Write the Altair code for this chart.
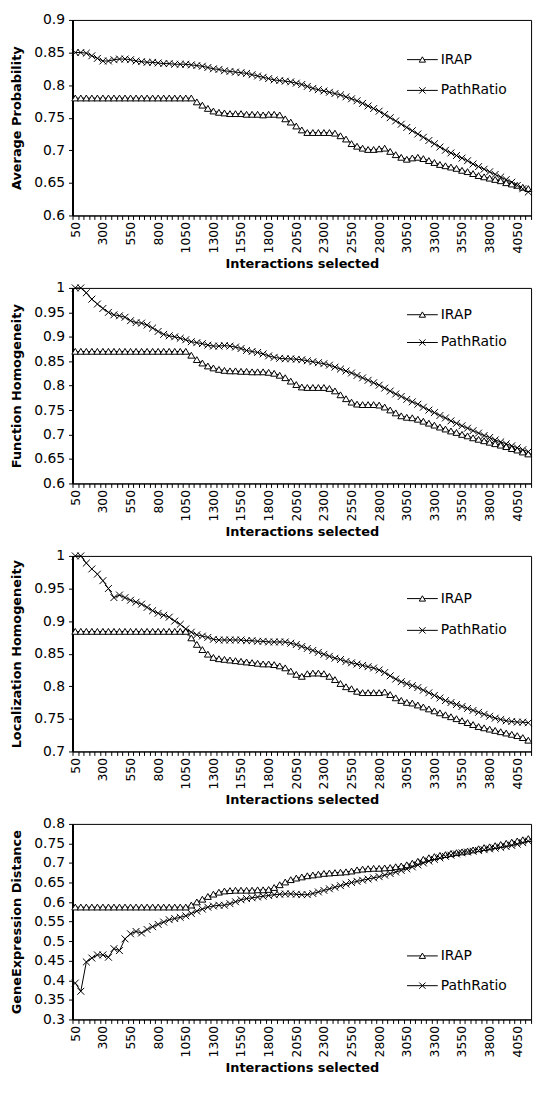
import altair as alt
import pandas as pd

# x categories (interactions selected), one every 50
interactions = list(range(50, 4151, 50))
series_names = ["IRAP", "PathRatio"]
# category boundaries used for the tick marks (labels shown every 250)
x_ticks = list(range(25, 4176, 50))

# ---- Average Probability ----
avg_irap = [
    0.78, 0.78, 0.78, 0.78, 0.78, 0.78, 0.78, 0.78, 0.78, 0.78,
    0.78, 0.78, 0.78, 0.78, 0.78, 0.78, 0.78, 0.78, 0.78, 0.78,
    0.78, 0.78, 0.774, 0.769, 0.764, 0.76, 0.758, 0.757, 0.756, 0.756,
    0.756, 0.755, 0.755, 0.755, 0.754, 0.755, 0.755, 0.754, 0.748, 0.743,
    0.737, 0.731, 0.727, 0.727, 0.727, 0.727, 0.727, 0.726, 0.722, 0.717,
    0.71, 0.706, 0.703, 0.701, 0.701, 0.702, 0.703, 0.698, 0.693, 0.689,
    0.686, 0.688, 0.689, 0.687, 0.684, 0.681, 0.678, 0.676, 0.674, 0.672,
    0.669, 0.667, 0.664, 0.661, 0.659, 0.657, 0.655, 0.653, 0.65, 0.648,
    0.646, 0.643, 0.641]
avg_path = [
    0.85, 0.85, 0.849, 0.845, 0.841, 0.837, 0.837, 0.839, 0.84, 0.84,
    0.839, 0.837, 0.836, 0.835, 0.835, 0.834, 0.833, 0.833, 0.832, 0.832,
    0.832, 0.831, 0.83, 0.829, 0.827, 0.825, 0.824, 0.822, 0.821, 0.82,
    0.819, 0.818, 0.816, 0.814, 0.812, 0.81, 0.808, 0.807, 0.806, 0.805,
    0.803, 0.801, 0.798, 0.795, 0.793, 0.791, 0.789, 0.787, 0.785, 0.782,
    0.779, 0.776, 0.772, 0.768, 0.764, 0.76, 0.755, 0.75, 0.745, 0.74,
    0.735, 0.73, 0.725, 0.72, 0.715, 0.71, 0.705, 0.7, 0.696, 0.692,
    0.688, 0.684, 0.679, 0.675, 0.671, 0.667, 0.663, 0.659, 0.655, 0.651,
    0.646, 0.641, 0.636]

# ---- Function Homogeneity ----
func_irap = [
    0.87, 0.87, 0.87, 0.87, 0.87, 0.87, 0.87, 0.87, 0.87, 0.87,
    0.87, 0.87, 0.87, 0.87, 0.87, 0.87, 0.87, 0.87, 0.87, 0.87,
    0.87, 0.862, 0.853, 0.846, 0.84, 0.836, 0.833, 0.831, 0.83, 0.83,
    0.829, 0.829, 0.828, 0.828, 0.828, 0.827, 0.825, 0.821, 0.816, 0.809,
    0.802, 0.797, 0.796, 0.796, 0.796, 0.796, 0.794, 0.789, 0.781, 0.773,
    0.766, 0.762, 0.761, 0.761, 0.761, 0.76, 0.756, 0.75, 0.744, 0.738,
    0.735, 0.734, 0.731, 0.727, 0.723, 0.719, 0.715, 0.711, 0.707, 0.704,
    0.7, 0.697, 0.693, 0.69, 0.687, 0.684, 0.681, 0.678, 0.675, 0.671,
    0.668, 0.664, 0.66]
func_path = [
    1.0, 1.0, 0.99, 0.977, 0.967, 0.958, 0.95, 0.945, 0.943, 0.94,
    0.933, 0.929, 0.928, 0.924, 0.918, 0.911, 0.905, 0.902, 0.9, 0.897,
    0.894, 0.89, 0.888, 0.886, 0.883, 0.881, 0.881, 0.882, 0.881, 0.879,
    0.876, 0.872, 0.87, 0.868, 0.865, 0.861, 0.858, 0.856, 0.855, 0.855,
    0.854, 0.853, 0.851, 0.849, 0.847, 0.845, 0.842, 0.838, 0.834, 0.83,
    0.826, 0.821, 0.816, 0.811, 0.806, 0.801, 0.795, 0.789, 0.783, 0.778,
    0.772, 0.767, 0.762, 0.756, 0.75, 0.745, 0.739, 0.734, 0.728, 0.723,
    0.718, 0.713, 0.708, 0.703, 0.698, 0.694, 0.689, 0.685, 0.681, 0.677,
    0.673, 0.669, 0.665]

# ---- Localization Homogeneity ----
loc_irap = [
    0.884, 0.884, 0.884, 0.884, 0.884, 0.884, 0.884, 0.884, 0.884, 0.884,
    0.884, 0.884, 0.884, 0.884, 0.884, 0.884, 0.884, 0.884, 0.884, 0.884,
    0.884, 0.874, 0.864, 0.856, 0.849, 0.844, 0.842, 0.841, 0.84, 0.839,
    0.838, 0.837, 0.836, 0.835, 0.834, 0.834, 0.833, 0.831, 0.828, 0.823,
    0.818, 0.815, 0.819, 0.82, 0.82, 0.819, 0.815, 0.81, 0.804, 0.799,
    0.796, 0.792, 0.79, 0.79, 0.79, 0.79, 0.791, 0.787, 0.782, 0.778,
    0.775, 0.774, 0.771, 0.768, 0.765, 0.762, 0.759, 0.756, 0.753, 0.75,
    0.747, 0.744, 0.741, 0.738, 0.736, 0.734, 0.732, 0.73, 0.728, 0.726,
    0.724, 0.721, 0.717]
loc_path = [
    1.0, 1.0, 0.989, 0.98, 0.972, 0.962, 0.95, 0.936, 0.94, 0.936,
    0.932, 0.929, 0.926, 0.921, 0.916, 0.912, 0.909, 0.906, 0.9, 0.895,
    0.888, 0.883, 0.879, 0.877, 0.875, 0.872, 0.871, 0.871, 0.871, 0.871,
    0.871, 0.87, 0.87, 0.869, 0.869, 0.868, 0.868, 0.868, 0.868, 0.866,
    0.864, 0.861, 0.858, 0.855, 0.852, 0.849, 0.846, 0.843, 0.841, 0.838,
    0.836, 0.834, 0.832, 0.83, 0.828, 0.825, 0.821, 0.816, 0.811, 0.807,
    0.804, 0.801, 0.798, 0.794, 0.79, 0.786, 0.782, 0.778, 0.775, 0.772,
    0.769, 0.766, 0.763, 0.76, 0.757, 0.754, 0.751, 0.749, 0.747, 0.746,
    0.745, 0.745, 0.744]

# ---- GeneExpression Distance ----
gene_irap = [
    0.587, 0.587, 0.587, 0.587, 0.587, 0.587, 0.587, 0.587, 0.587, 0.587,
    0.587, 0.587, 0.587, 0.587, 0.587, 0.587, 0.587, 0.587, 0.587, 0.587,
    0.587, 0.592, 0.6, 0.607, 0.614, 0.62, 0.625, 0.628, 0.629, 0.63,
    0.63, 0.63, 0.63, 0.631, 0.631, 0.632, 0.637, 0.644, 0.651, 0.657,
    0.661, 0.664, 0.667, 0.669, 0.671, 0.673, 0.674, 0.675, 0.676, 0.677,
    0.679, 0.682, 0.684, 0.685, 0.686, 0.686, 0.687, 0.688, 0.69, 0.692,
    0.695, 0.699, 0.704, 0.709, 0.713, 0.716, 0.719, 0.721, 0.724, 0.726,
    0.728, 0.73, 0.733, 0.736, 0.739, 0.741, 0.744, 0.747, 0.75, 0.753,
    0.756, 0.759, 0.762]
gene_path = [
    0.393, 0.372, 0.447, 0.457, 0.465, 0.465, 0.459, 0.481, 0.476, 0.506,
    0.519, 0.525, 0.521, 0.53, 0.537, 0.543, 0.549, 0.555, 0.558, 0.561,
    0.565, 0.571, 0.577, 0.582, 0.587, 0.59, 0.592, 0.592, 0.596, 0.601,
    0.606, 0.609, 0.611, 0.613, 0.615, 0.617, 0.619, 0.62, 0.621, 0.621,
    0.62, 0.619, 0.619, 0.622, 0.626, 0.63, 0.634, 0.638, 0.642, 0.646,
    0.65, 0.653, 0.656, 0.659, 0.662, 0.665, 0.669, 0.673, 0.677, 0.681,
    0.685, 0.69, 0.695, 0.7, 0.705, 0.709, 0.713, 0.717, 0.72, 0.723,
    0.726, 0.728, 0.73, 0.732, 0.734, 0.736, 0.738, 0.74, 0.742, 0.745,
    0.748, 0.752, 0.756]

y_ticks_1 = [0.6, 0.65, 0.7, 0.75, 0.8, 0.85, 0.9]
y_ticks_2 = [0.6, 0.65, 0.7, 0.75, 0.8, 0.85, 0.9, 0.95, 1.0]
y_ticks_3 = [0.7, 0.75, 0.8, 0.85, 0.9, 0.95, 1.0]
y_ticks_4 = [0.3, 0.35, 0.4, 0.45, 0.5, 0.55, 0.6, 0.65, 0.7, 0.75, 0.8]

# marker shapes
TRI = "M0,-0.9L1,0.8L-1,0.8Z"
XMK = "M-1,-1L1,1M-1,1L1,-1"
MARKERS = [TRI, XMK]

PLOT_W = 462
PLOT_H = 197
FONT = "DejaVu Sans"


def legend_layers(row_y):
    """Small in-plot legend: line + marker + label for each series."""
    layers = []
    for name, marker, yy in zip(series_names, MARKERS, row_y):
        src = alt.Chart(pd.DataFrame({"label": [name]}))
        layers.append(
            src.mark_rule(color="black", strokeWidth=1).encode(
                x=alt.value(337), x2=alt.value(368), y=alt.value(yy)
            )
        )
        layers.append(
            src.mark_point(
                filled=True, fill="white", stroke="black", strokeWidth=1,
                size=40, opacity=1,
            ).encode(x=alt.value(352.5), y=alt.value(yy), shape=alt.value(marker))
        )
        layers.append(
            src.mark_text(
                align="left", baseline="middle", font=FONT, fontSize=14, color="black"
            ).encode(x=alt.value(371), y=alt.value(yy), text="label:N")
        )
    return layers


def panel(irap, path, ytitle, ydomain, yticks, row_y):
    df = pd.DataFrame({
        "Interactions": interactions * 2,
        "value": irap + path,
        "series": [series_names[0]] * len(irap) + [series_names[1]] * len(path),
    })
    x = alt.X(
        "Interactions:Q",
        scale=alt.Scale(domain=[25, 4175], nice=False, zero=False),
        axis=alt.Axis(
            values=x_ticks,
            labelExpr="(datum.value - 25) % 250 == 0 ? '' + (datum.value + 25) : ''",
            labelAngle=-90,
            labelOffset=2.78,
            labelFlush=False,
            labelOverlap=False,
            grid=False,
            title="Interactions selected",
        ),
    )
    y = alt.Y(
        "value:Q",
        scale=alt.Scale(domain=ydomain, nice=False, zero=False),
        axis=alt.Axis(values=yticks, format=".2~f", grid=False, title=ytitle),
    )
    base = alt.Chart(df).encode(x=x, y=y)
    line = base.mark_line(color="black", strokeWidth=1).encode(detail="series:N")
    pts = base.mark_point(
        filled=True, fill="white", stroke="black", strokeWidth=1, size=48, opacity=1
    ).encode(
        shape=alt.Shape(
            "series:N",
            scale=alt.Scale(domain=series_names, range=MARKERS),
            legend=None,
        )
    )
    return alt.layer(line, pts, *legend_layers(row_y)).properties(
        width=PLOT_W, height=PLOT_H
    )


chart = (
    alt.vconcat(
        panel(avg_irap, avg_path, "Average Probability", [0.6, 0.9], y_ticks_1, [40, 71]),
        panel(func_irap, func_path, "Function Homogeneity", [0.6, 1.0], y_ticks_2, [27, 55]),
        panel(loc_irap, loc_path, "Localization  Homogeneity", [0.7, 1.0], y_ticks_3, [43, 75]),
        panel(gene_irap, gene_path, "GeneExpression  Distance", [0.3, 0.8], y_ticks_4, [133, 163]),
        spacing=8,
    )
    .properties(padding={"left": 2, "top": 0, "right": 0, "bottom": 0})
    .configure_view(stroke="black", strokeWidth=1)
    .configure_axis(
        domainColor="black", tickColor="black", labelColor="black", titleColor="black"
    )
    .configure_axisX(
        labelFont=FONT, labelFontSize=12.5, titleFont=FONT,
        titleFontSize=13, titleFontWeight="bold", tickSize=4, labelPadding=2,
        titlePadding=5, domainWidth=1,
    )
    .configure_axisY(
        labelFont=FONT, labelFontSize=14, titleFont=FONT,
        titleFontSize=13, titleFontWeight="bold", tickSize=4, labelPadding=4,
        titlePadding=10, domainWidth=2,
    )
)

chart.save("out.html", embed_options={"renderer": "svg", "actions": False})
